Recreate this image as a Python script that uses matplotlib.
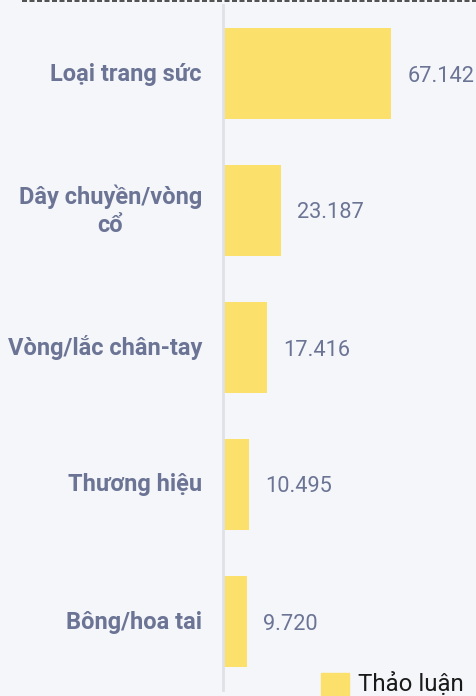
import matplotlib
matplotlib.use("Agg")
import matplotlib.pyplot as plt
from matplotlib.patches import Rectangle

categories = ["Loại trang sức", "Dây chuyền/vòng\ncổ", "Vòng/lắc chân-tay", "Thương hiệu", "Bông/hoa tai"]
values = [67.142, 23.187, 17.416, 10.495, 9.720]
value_labels = ["67.142", "23.187", "17.416", "10.495", "9.720"]
series_name = "Thảo luận"

bg = "#f5f6fa"
bar_color = "#fbe06b"
label_color = "#6b7494"
W, H = 477, 696
fig = plt.figure(figsize=(W / 100, H / 100), dpi=100, facecolor=bg)
ax = fig.add_axes([223 / W, 1 - 690 / H, (W - 223) / W, 685 / H])
ax.set_facecolor(bg)
scale = 168.5 / 67.142  # px per unit
ax.set_xlim(0, (W - 223) / scale)
ax.set_ylim(len(categories) - 0.5, -0.5)
ypos = list(range(len(categories)))
ax.barh(ypos, values, height=0.67, color=bar_color, left=0)
for y, v, t in zip(ypos, values, value_labels):
    ax.annotate(t, (v, y), xytext=(16, -8), textcoords="offset pixels", va="baseline", ha="left",
                fontsize=15.7, color=label_color, family="Roboto")
for y, c in zip(ypos, categories):
    multi = "\n" in c
    ax.annotate(c, (0, y), xytext=(-21, 0 if multi else -7), textcoords="offset pixels",
                va="center" if multi else "baseline", ha="right",
                fontsize=17, color=label_color, family="Roboto", fontweight="bold",
                multialignment="center", linespacing=1.25, annotation_clip=False)
for s in ["top", "right", "bottom"]:
    ax.spines[s].set_visible(False)
ax.spines["left"].set_color("#dfe1e8")
ax.spines["left"].set_linewidth(2)
ax.set_xticks([])
ax.set_yticks([])

# dashed line at top
fig.add_artist(plt.Line2D([22 / W, 1], [1 - 1 / H, 1 - 1 / H], color="#333333", lw=1.2,
                          linestyle=(0, (3, 1.5)), transform=fig.transFigure))
# legend
fig.add_artist(Rectangle((321 / W, 1 - 695 / H), 28 / W, 22 / H, color=bar_color, transform=fig.transFigure))
fig.text(358 / W, 1 - 684 / H, series_name, fontsize=17.3, color="#1a1a1a", family="Roboto",
         va="center", ha="left")

fig.savefig("out.png", dpi=100, facecolor=bg)
